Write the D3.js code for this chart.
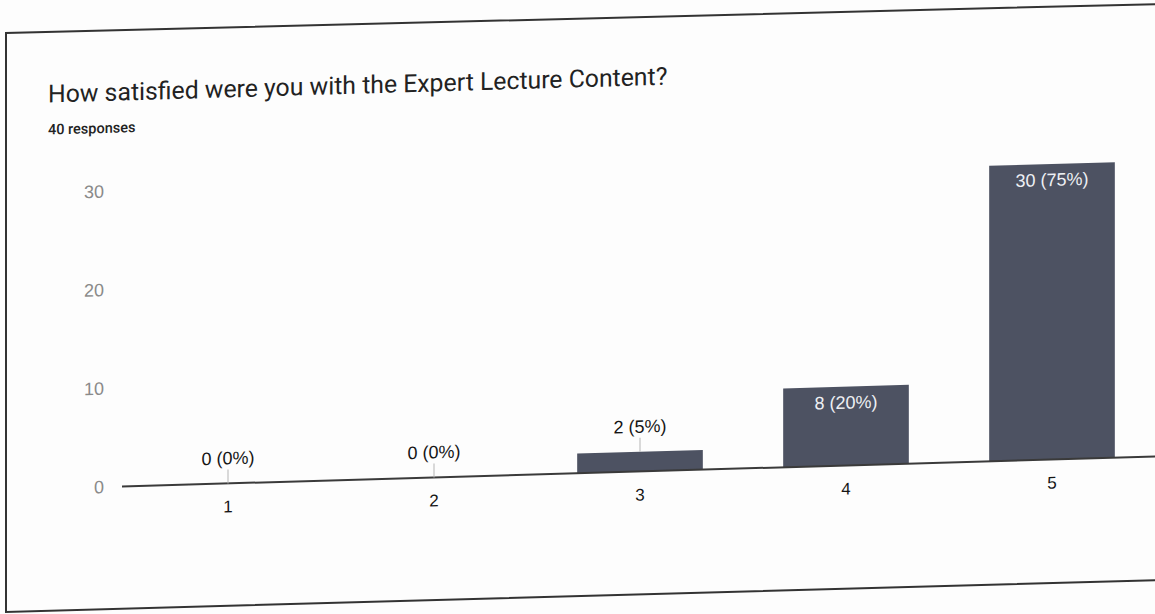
<!DOCTYPE html>
<html><head><meta charset="utf-8">
<script src="https://cdn.jsdelivr.net/npm/d3@7"></script>
<style>html,body{margin:0;padding:0;background:#fff;} svg{display:block}</style>
</head><body><svg id="c" width="1155" height="614"></svg>
<script>
const categories = ["1", "2", "3", "4", "5"];
const counts = [0, 0, 2, 8, 30];
const percents = ["0%", "0%", "5%", "20%", "75%"];
const yTicks = [0, 10, 20, 30];
const title = "How satisfied were you with the Expert Lecture Content?";
const subtitle = "40 responses";

const svg = d3.select("#c");
svg.append("rect").attr("width", 1155).attr("height", 614).attr("fill", "#fdfdfd");

// photographed card border (slightly tilted)
svg.append("path")
  .attr("d", "M1160,4 L6,33 L6,612 L1160,580")
  .attr("fill", "none").attr("stroke", "#333").attr("stroke-width", 2);

const g = svg.append("g").attr("transform", "skewY(-1.66)");

g.append("text").attr("x", 48).attr("y", 104)
  .attr("font-family", "Roboto, Arial, sans-serif").attr("font-size", 24.8)
  .attr("fill", "#222").text(title);
g.append("text").attr("x", 48).attr("y", 136)
  .attr("font-family", "Roboto, Arial, sans-serif").attr("font-size", 14.5)
  .attr("font-weight", 500).attr("fill", "#222").text(subtitle);

const x = d3.scaleBand().domain(categories).range([125, 1155])
  .paddingInner(0.39).paddingOuter(0.195);
const y = d3.scaleLinear().domain([0, 35]).range([490, 490 - 9.85 * 35]);

const data = categories.map((c, i) => ({ c, v: counts[i], p: percents[i] }));

// y axis labels
const ya = g.append("g").attr("transform", "translate(122,0)")
  .call(d3.axisLeft(y).tickValues(yTicks).tickSize(0).tickPadding(18));
ya.select(".domain").remove();
ya.selectAll("text").attr("font-family", "'Liberation Sans', Arial, sans-serif")
  .attr("font-size", 18).attr("fill", "#8a8a8a");

// bars
g.selectAll("rect.bar").data(data).join("rect").attr("class", "bar")
  .attr("x", d => x(d.c)).attr("width", x.bandwidth())
  .attr("y", d => y(d.v)).attr("height", d => y(0) - y(d.v))
  .attr("fill", "#4d5262");

// baseline
g.append("line").attr("x1", 122).attr("x2", 1165)
  .attr("y1", y(0)).attr("y2", y(0))
  .attr("stroke", "#3a3a3a").attr("stroke-width", 2);

// x axis labels
const xa = g.append("g").attr("transform", `translate(0,${y(0)})`)
  .call(d3.axisBottom(x).tickSize(0).tickPadding(17));
xa.select(".domain").remove();
xa.selectAll("text").attr("font-family", "'Liberation Sans', Arial, sans-serif")
  .attr("font-size", 17).attr("fill", "#151515");

// value labels
const inside = d => d.v >= 8;
g.selectAll("line.conn").data(data.filter(d => !inside(d))).join("line").attr("class", "conn")
  .attr("x1", d => x(d.c) + x.bandwidth() / 2).attr("x2", d => x(d.c) + x.bandwidth() / 2)
  .attr("y1", d => y(d.v)).attr("y2", d => y(d.v) - 14)
  .attr("stroke", "#b5b5b5").attr("stroke-width", 1);
g.selectAll("text.val").data(data).join("text").attr("class", "val")
  .attr("x", d => x(d.c) + x.bandwidth() / 2)
  .attr("y", d => inside(d) ? y(d.v) + 22 : y(d.v) - 19)
  .attr("text-anchor", "middle")
  .attr("font-family", "'Liberation Sans', Arial, sans-serif").attr("font-size", 18)
  .attr("fill", d => inside(d) ? "#eef0f4" : "#151515")
  .text(d => `${d.v} (${d.p})`);
</script></body></html>
